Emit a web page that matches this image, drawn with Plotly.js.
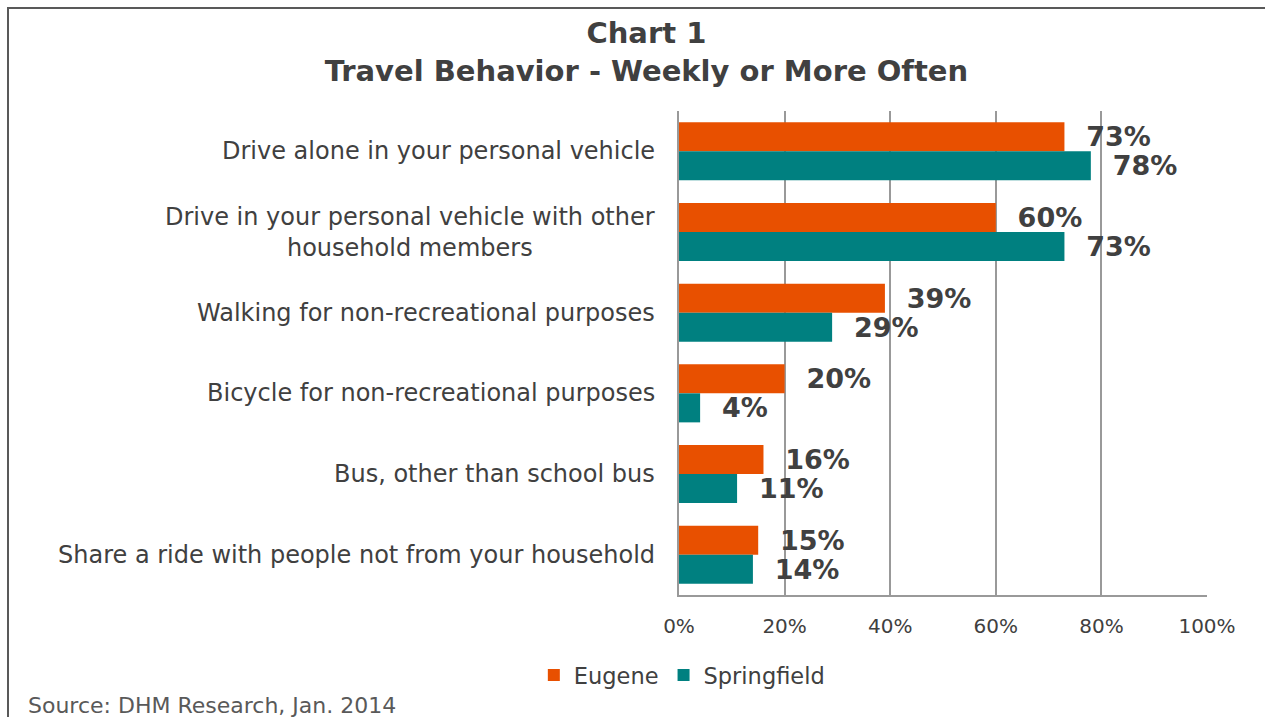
<!DOCTYPE html>
<html><head><meta charset="utf-8">
<script src="https://cdn.plot.ly/plotly-3.0.1.min.js"></script>
<style>html,body{margin:0;padding:0;background:#fff;}#wrap{position:relative;width:1265px;height:717px;}
#frame{position:absolute;left:7px;top:7px;width:1300px;height:800px;border-left:2px solid #595959;border-top:2px solid #595959;pointer-events:none;}</style>
</head><body><div id="wrap"><div id="chart" style="width:1265px;height:717px;"></div><div id="frame"></div></div>
<script>
const categories = [
  "Drive alone in your personal vehicle",
  "Drive in your personal vehicle with other<br>household members",
  "Walking for non-recreational purposes",
  "Bicycle for non-recreational purposes",
  "Bus, other than school bus",
  "Share a ride with people not from your household"
];
const eugene = [73, 60, 39, 20, 16, 15];
const springfield = [78, 73, 29, 4, 11, 14];
const xTicks = [0, 20, 40, 60, 80, 100];
const xTickLabels = ["0%", "20%", "40%", "60%", "80%", "100%"];

const pad = "\u00a0\u00a0";
const labelFont = {family: "DejaVu Sans", size: 27, color: "#404040", weight: "bold"};
const traces = [
  {type: "bar", orientation: "h", name: "Eugene", y: categories, x: eugene,
   marker: {color: "#E85000"}, text: eugene.map(v => pad + "<b>" + v + "%</b>"), textposition: "outside",
   constraintext: "none", textfont: labelFont, cliponaxis: false, hoverinfo: "none"},
  {type: "bar", orientation: "h", name: "Springfield", y: categories, x: springfield,
   marker: {color: "#008080"}, text: springfield.map(v => pad + "<b>" + v + "%</b>"), textposition: "outside",
   constraintext: "none", textfont: labelFont, cliponaxis: false, hoverinfo: "none"}
];
const annotations = categories.map(c => ({
  xref: "paper", yref: "y", x: 0, y: c, xanchor: "right", yanchor: "middle", xshift: -22,
  text: c, showarrow: false, align: "center",
  font: {family: "DejaVu Sans", size: 24, color: "#404040"}
}));
annotations.push({xref: "paper", yref: "paper", x: 0, y: 0, xanchor: "left", yanchor: "middle",
  text: "Source: DHM Research, Jan. 2014", showarrow: false, xshift: -653, yshift: -110,
  font: {family: "DejaVu Sans", size: 22, color: "#595959"}});
const layout = {
  width: 1265, height: 717,
  margin: {l: 679, r: 58, t: 111, b: 122, autoexpand: false},
  paper_bgcolor: "#fff", plot_bgcolor: "#fff",
  title: {text: "<b>Chart 1</b><br><b>Travel Behavior - Weekly or More Often</b>", x: 0.511, xanchor: "center",
          y: 0.94, yanchor: "middle", font: {family: "DejaVu Sans", size: 29, color: "#404040"}},
  barmode: "group", bargap: 0.28, bargroupgap: 0,
  xaxis: {range: [0, 100], tickvals: xTicks, ticktext: xTickLabels, showgrid: true, gridcolor: "#999",
          gridwidth: 2, zeroline: false, showline: true, linecolor: "#999", linewidth: 2,
          ticks: "", ticklabelstandoff: 12, tickfont: {family: "DejaVu Sans", size: 20, color: "#404040"},
          fixedrange: true},
  yaxis: {autorange: "reversed", showticklabels: false, showgrid: false, zeroline: false,
          showline: true, linecolor: "#999", linewidth: 2, ticks: "", fixedrange: true},
  showlegend: true,
  legend: {orientation: "h", xref: "container", yref: "container", x: 0.539, xanchor: "center",
           y: 0.058, yanchor: "middle",
           font: {family: "DejaVu Sans", size: 22.5, color: "#404040"}, traceorder: "normal",
           itemwidth: 30, itemsizing: "constant"},
  annotations: annotations
};
Plotly.newPlot("chart", traces, layout, {staticPlot: true});
</script></body></html>
